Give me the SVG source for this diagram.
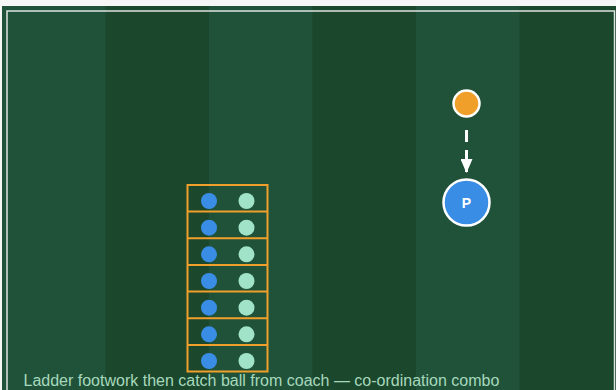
<svg xmlns="http://www.w3.org/2000/svg" width="616" height="390" viewBox="0 0 616 390">
  <defs>
    <marker id="arrow" viewBox="0 0 14 12" refX="13" refY="6" markerWidth="14" markerHeight="12" markerUnits="userSpaceOnUse" orient="auto">
      <path d="M0,0 L14,6 L0,12 Z" fill="#ffffff"/>
    </marker>
  </defs>
  <style>
    .light { fill: #20523a; }
    .dark { fill: #1b472d; }
    .rung { fill: none; stroke: #f0a02a; stroke-width: 2; }
    .blue { fill: #3a8de4; }
    .mint { fill: #a1e3c8; }
    .caption { font-family: "Liberation Sans", Arial, sans-serif; font-size: 16px; fill: #a6d9bc; }
    .label { font-family: "Liberation Sans", Arial, sans-serif; font-size: 14px; font-weight: bold; fill: #ffffff; }
  </style>

  <!-- page and striped pitch -->
  <rect x="0" y="0" width="616" height="390" fill="#f6f6f6"/>
  <g id="pitch">
    <rect class="light" x="2" y="6" width="104" height="390"/>
    <rect class="dark" x="105.5" y="6" width="104" height="390"/>
    <rect class="light" x="209" y="6" width="104" height="390"/>
    <rect class="dark" x="312.5" y="6" width="104" height="390"/>
    <rect class="light" x="416" y="6" width="104" height="390"/>
    <rect class="dark" x="519.5" y="6" width="100" height="390"/>
    <rect x="7" y="11" width="607.5" height="390" fill="none" stroke="#ffffff" stroke-opacity="0.85" stroke-width="1.5"/>
  </g>

  <!-- agility ladder with two rows of markers -->
  <g id="ladder">
    <rect class="rung" x="187.5" y="185" width="80" height="186.5"/>
    <line class="rung" x1="187.5" y1="211.6" x2="267.5" y2="211.6"/>
    <line class="rung" x1="187.5" y1="238.3" x2="267.5" y2="238.3"/>
    <line class="rung" x1="187.5" y1="264.9" x2="267.5" y2="264.9"/>
    <line class="rung" x1="187.5" y1="291.6" x2="267.5" y2="291.6"/>
    <line class="rung" x1="187.5" y1="318.2" x2="267.5" y2="318.2"/>
    <line class="rung" x1="187.5" y1="344.9" x2="267.5" y2="344.9"/>
  </g>
  <g id="ladder-markers">
    <circle class="blue" cx="209" cy="201" r="8"/>
    <circle class="mint" cx="246.5" cy="201" r="8"/>
    <circle class="blue" cx="209" cy="227.7" r="8"/>
    <circle class="mint" cx="246.5" cy="227.7" r="8"/>
    <circle class="blue" cx="209" cy="254.3" r="8"/>
    <circle class="mint" cx="246.5" cy="254.3" r="8"/>
    <circle class="blue" cx="209" cy="281" r="8"/>
    <circle class="mint" cx="246.5" cy="281" r="8"/>
    <circle class="blue" cx="209" cy="307.7" r="8"/>
    <circle class="mint" cx="246.5" cy="307.7" r="8"/>
    <circle class="blue" cx="209" cy="334.3" r="8"/>
    <circle class="mint" cx="246.5" cy="334.3" r="8"/>
    <circle class="blue" cx="209" cy="361" r="8"/>
    <circle class="mint" cx="246.5" cy="361" r="8"/>
  </g>

  <!-- coach -->
  <g id="coach">
    <circle cx="466.5" cy="103.5" r="13" fill="#f0a02a" stroke="#ffffff" stroke-width="2.5"/>
  </g>

  <!-- player -->
  <g id="player">
    <circle cx="466.5" cy="202.5" r="23" fill="#3a8de4" stroke="#ffffff" stroke-width="2.5"/>
    <text class="label" x="466.5" y="207.5" text-anchor="middle">P</text>
  </g>

  <!-- ball path -->
  <g id="connectors">
    <line x1="466.5" y1="130" x2="466.5" y2="172" stroke="#ffffff" stroke-width="3" stroke-dasharray="12,8" marker-end="url(#arrow)"/>
  </g>

  <text class="caption" x="23.5" y="385.5">Ladder footwork then catch ball from coach — co-ordination combo</text>
</svg>
